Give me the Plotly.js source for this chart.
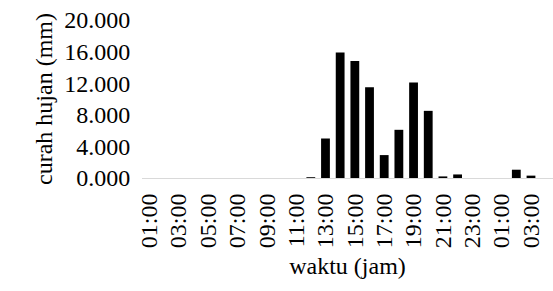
<!DOCTYPE html>
<html>
<head>
<meta charset="utf-8">
<script src="https://cdn.plot.ly/plotly-3.0.1.min.js"></script>
<style>html,body{margin:0;padding:0;background:#fff;}#chart{width:553px;height:291px;}</style>
</head>
<body>
<div id="chart"></div>
<script>
const hours = ["01:00","02:00","03:00","04:00","05:00","06:00","07:00","08:00","09:00","10:00","11:00","12:00",
  "13:00","14:00","15:00","16:00","17:00","18:00","19:00","20:00","21:00","22:00","23:00","00:00",
  "01:00","02:00","03:00","04:00"];
const rainfall = [0,0,0,0,0,0,0,0,0,0,0,0.1,
  5.0,15.9,14.8,11.5,2.9,6.1,12.1,8.5,0.2,0.45,0,0,
  0,1.05,0.3,0];
const yTicks = [0,4,8,12,16,20];

const xPos = hours.map((h,i)=>i);
const tickIdx = xPos.filter(i=>i%2===0);
const font = {family:"Liberation Serif, Times New Roman, serif", size:24, color:"#000"};

Plotly.newPlot("chart",[{
  type:"bar", x:xPos, y:rainfall,
  marker:{color:"#000", line:{color:"#000", width:0}},
  hoverinfo:"none"
}],{
  width:553, height:291,
  margin:{l:142,r:0,t:20,b:113},
  paper_bgcolor:"#fff", plot_bgcolor:"#fff",
  bargap:0.4,
  font:font,
  showlegend:false,
  xaxis:{
    range:[-0.5,27.5], automargin:false,
    tickvals:tickIdx, ticktext:tickIdx.map(i=>hours[i]),
    tickangle:-90, showgrid:false, zeroline:false,
    showline:true, linecolor:"#d9d9d9", linewidth:1,
    ticks:"outside", ticklen:5, tickcolor:"rgba(0,0,0,0)", tickfont:font,
    title:{text:"waktu (jam)", font:font, standoff:9}
  },
  yaxis:{
    range:[0,20], tickvals:yTicks, tickformat:".3f", automargin:false,
    showgrid:false, zeroline:false, showline:false,
    ticks:"outside", ticklen:6, tickcolor:"rgba(0,0,0,0)",
    tickfont:font,
    title:{text:"curah hujan (mm)", font:font, standoff:4}
  }
},{staticPlot:true});
</script>
</body>
</html>
